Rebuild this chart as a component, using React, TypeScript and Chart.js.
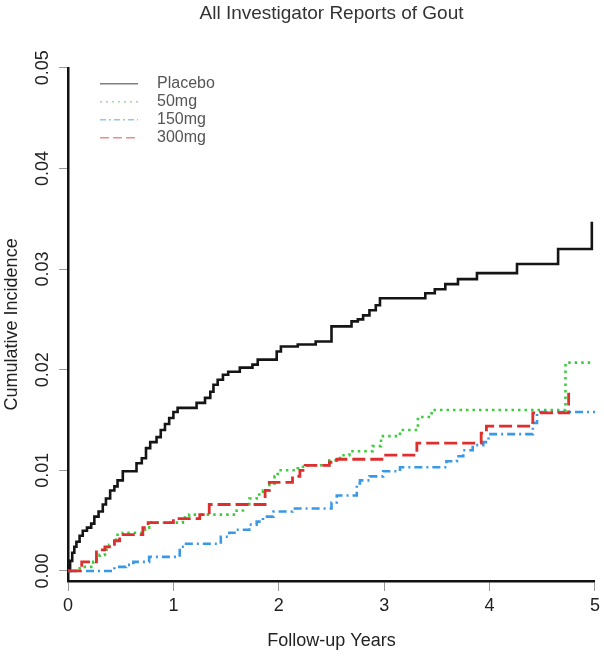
import React, { useEffect, useRef } from "react";
import { Chart, registerables } from "chart.js";

Chart.register(...registerables);

const FONT = "'Liberation Sans', Arial, sans-serif";

const TITLE = "All Investigator Reports of Gout";
const X_TITLE = "Follow-up Years";
const Y_TITLE = "Cumulative Incidence";
const X_TICKS = [0, 1, 2, 3, 4, 5];
const Y_TICKS = [0, 0.01, 0.02, 0.03, 0.04, 0.05];
const SERIES_NAMES = ["Placebo", "50mg", "150mg", "300mg"];

const PLACEBO_T = [0, 0.02, 0.04, 0.06, 0.08, 0.11, 0.14, 0.18, 0.22, 0.25, 0.29, 0.33, 0.36, 0.40, 0.44, 0.47, 0.52, 0.65, 0.70, 0.74, 0.78, 0.84, 0.88, 0.92, 0.96, 1.00, 1.04, 1.22, 1.30, 1.35, 1.38, 1.42, 1.47, 1.52, 1.63, 1.75, 1.80, 1.98, 2.02, 2.18, 2.35, 2.50, 2.69, 2.75, 2.80, 2.86, 2.92, 2.96, 3.39, 3.48, 3.58, 3.70, 3.88, 4.26, 4.65, 4.97];
const PLACEBO_V = [0, 0.0010, 0.0018, 0.0024, 0.0029, 0.0035, 0.0040, 0.0043, 0.0047, 0.0054, 0.0059, 0.0066, 0.0072, 0.0080, 0.0084, 0.0090, 0.0099, 0.0107, 0.0112, 0.0122, 0.0128, 0.0133, 0.0140, 0.0146, 0.0152, 0.0158, 0.0162, 0.0167, 0.0172, 0.0178, 0.0185, 0.0190, 0.0195, 0.0198, 0.0202, 0.0205, 0.0210, 0.0218, 0.0223, 0.0225, 0.0228, 0.0243, 0.0248, 0.0250, 0.0254, 0.0259, 0.0264, 0.0271, 0.0276, 0.0280, 0.0285, 0.0290, 0.0296, 0.0305, 0.0320, 0.0347];

const MG50_T = [0, 0.11, 0.24, 0.27, 0.30, 0.35, 0.39, 0.44, 0.47, 0.52, 0.73, 0.77, 1.09, 1.15, 1.60, 1.66, 1.72, 1.79, 1.85, 1.91, 1.96, 1.99, 2.18, 2.23, 2.48, 2.58, 2.67, 2.89, 2.97, 3.15, 3.32, 3.45, 4.72, 4.98];
const MG50_V = [0, 0.0004, 0.0009, 0.0013, 0.0016, 0.0021, 0.0026, 0.0031, 0.0036, 0.0038, 0.0043, 0.0048, 0.0053, 0.0056, 0.0060, 0.0066, 0.0072, 0.0076, 0.0080, 0.0087, 0.0094, 0.0100, 0.0102, 0.0105, 0.0110, 0.0115, 0.0119, 0.0124, 0.0134, 0.0140, 0.0153, 0.0160, 0.0207, 0.0207];

const MG150_T = [0, 0.44, 0.55, 0.62, 0.77, 1.06, 1.12, 1.45, 1.53, 1.60, 1.72, 1.79, 1.85, 1.95, 2.13, 2.50, 2.55, 2.74, 2.77, 2.86, 2.99, 3.15, 3.59, 3.69, 3.75, 3.84, 3.94, 3.99, 4.41, 4.45, 5.00];
const MG150_V = [0, 0.0004, 0.0006, 0.0009, 0.0014, 0.0024, 0.0027, 0.0034, 0.0038, 0.0041, 0.0046, 0.0049, 0.0054, 0.0059, 0.0062, 0.0068, 0.0075, 0.0087, 0.0090, 0.0094, 0.0099, 0.0103, 0.0109, 0.0114, 0.0120, 0.0125, 0.0128, 0.0136, 0.0147, 0.0158, 0.0158];

const MG300_T = [0, 0.13, 0.27, 0.35, 0.44, 0.49, 0.71, 0.76, 1.00, 1.25, 1.34, 1.87, 1.91, 2.13, 2.20, 2.25, 2.48, 2.55, 3.00, 3.31, 3.92, 3.97, 4.41, 4.75];
const MG300_V = [0, 0.0009, 0.0021, 0.0024, 0.0030, 0.0036, 0.0043, 0.0048, 0.0052, 0.0056, 0.0066, 0.0080, 0.0088, 0.0094, 0.0100, 0.0105, 0.0108, 0.0111, 0.0115, 0.0127, 0.0137, 0.0144, 0.0157, 0.0177];

const toPoints = (t: number[], v: number[]) => t.map((x, i) => ({ x, y: v[i] }));

const yLabelPlugin = {
  id: "yRotLabels",
  afterDraw(chart: any) {
    const s = chart.scales.y;
    const ctx = chart.ctx;
    ctx.save();
    ctx.font = `18px ${FONT}`;
    ctx.fillStyle = "#222";
    ctx.textAlign = "center";
    ctx.textBaseline = "middle";
    s.ticks.forEach((t: any) => {
      const y = s.getPixelForValue(t.value);
      ctx.save();
      ctx.translate(s.right - 25, y);
      ctx.rotate(-Math.PI / 2);
      ctx.fillText(Number(t.value).toFixed(2), 0, 0);
      ctx.restore();
    });
    ctx.restore();
  },
};

const legendPlugin = {
  id: "rLegend",
  afterDraw(chart: any) {
    const ctx = chart.ctx;
    const area = chart.chartArea;
    const x0 = area.left + 32;
    const x1 = area.left + 70;
    const tx = area.left + 89;
    const y0 = area.top + 16;
    const dy = 18;
    ctx.save();
    chart.data.datasets.forEach((ds: any, i: number) => {
      const y = y0 + i * dy;
      ctx.save();
      ctx.globalAlpha = 0.55;
      ctx.strokeStyle = ds.borderColor;
      ctx.lineWidth = 1.6;
      ctx.setLineDash(ds.legendDash || []);
      ctx.beginPath();
      ctx.moveTo(x0, y);
      ctx.lineTo(x1, y);
      ctx.stroke();
      ctx.restore();
      ctx.font = `16px ${FONT}`;
      ctx.fillStyle = "#555";
      ctx.textAlign = "left";
      ctx.textBaseline = "middle";
      ctx.fillText(ds.label, tx, y);
    });
    ctx.restore();
  },
};

export default function App() {
  const ref = useRef<HTMLCanvasElement>(null);

  useEffect(() => {
    const canvas = ref.current;
    if (!canvas) return;
    const chart = new Chart(canvas, {
      type: "line",
      data: {
        datasets: [
          {
            label: SERIES_NAMES[0],
            data: toPoints(PLACEBO_T, PLACEBO_V),
            borderColor: "#151515",
            borderWidth: 2.6,
            stepped: true,
            pointRadius: 0,
            borderJoinStyle: "miter",
            order: 3,
            legendDash: [],
          } as any,
          {
            label: SERIES_NAMES[1],
            data: toPoints(MG50_T, MG50_V),
            borderColor: "#3ccc3c",
            borderWidth: 2.6,
            borderDash: [2.5, 4],
            stepped: true,
            pointRadius: 0,
            order: 2,
            legendDash: [2, 4],
          } as any,
          {
            label: SERIES_NAMES[2],
            data: toPoints(MG150_T, MG150_V),
            borderColor: "#3a98e8",
            borderWidth: 2.6,
            borderDash: [8, 4, 2, 4],
            stepped: true,
            pointRadius: 0,
            order: 1,
            legendDash: [6, 3, 2, 3],
          } as any,
          {
            label: SERIES_NAMES[3],
            data: toPoints(MG300_T, MG300_V),
            borderColor: "#de2e2e",
            borderWidth: 2.8,
            borderDash: [13, 5],
            stepped: true,
            pointRadius: 0,
            order: 0,
            legendDash: [9, 4],
          } as any,
        ],
      },
      options: {
        responsive: false,
        animation: false,
        events: [],
        layout: { padding: { left: 0, right: 9, top: 2, bottom: 0 } },
        plugins: {
          legend: { display: false },
          tooltip: { enabled: false },
          title: {
            display: true,
            text: TITLE,
            fullSize: false,
            color: "#333",
            font: { family: FONT, size: 19, weight: "normal" },
            padding: { top: 0, bottom: 43 },
          },
        },
        scales: {
          x: {
            type: "linear",
            min: 0,
            max: 5,
            afterBuildTicks: (s: any) => {
              s.ticks = X_TICKS.map((v) => ({ value: v }));
            },
            afterFit: (s: any) => {
              s.height = 77;
            },
            border: { display: true, color: "#111", width: 2.5 },
            grid: { drawOnChartArea: false, drawTicks: true, tickLength: 10, color: "#999", lineWidth: 1 },
            ticks: {
              color: "#222",
              font: { family: FONT, size: 18 },
              padding: 4,
              maxRotation: 0,
              autoSkip: false,
              callback: (v: any) => String(v),
            },
            title: {
              display: true,
              text: X_TITLE,
              color: "#222",
              font: { family: FONT, size: 18 },
              padding: { top: 0, bottom: 6 },
            },
          },
          y: {
            type: "linear",
            min: -0.001,
            max: 0.05,
            afterBuildTicks: (s: any) => {
              s.ticks = Y_TICKS.map((v) => ({ value: v }));
            },
            afterFit: (s: any) => {
              s.width = 68;
            },
            border: { display: true, color: "#111", width: 2.5 },
            grid: { drawOnChartArea: false, drawTicks: true, tickLength: 9, color: "#999", lineWidth: 1 },
            ticks: { display: false },
            title: {
              display: true,
              text: Y_TITLE,
              color: "#222",
              font: { family: FONT, size: 18 },
              padding: { top: 1, bottom: 0 },
            },
          },
        },
      } as any,
      plugins: [yLabelPlugin, legendPlugin],
    });
    return () => chart.destroy();
  }, []);

  return (
    <div style={{ position: "fixed", left: 0, top: 0, width: 604, height: 658, background: "#fff" }}>
      <canvas ref={ref} width={604} height={658} style={{ display: "block", width: 604, height: 658 }} />
    </div>
  );
}
